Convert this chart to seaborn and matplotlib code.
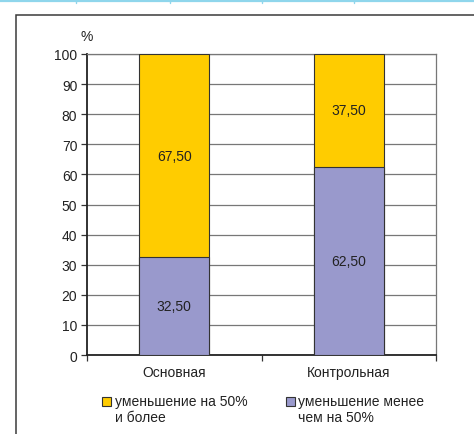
import matplotlib
matplotlib.use("Agg")
import matplotlib.pyplot as plt
from matplotlib.patches import Rectangle
from matplotlib.lines import Line2D
import seaborn as sns
import pandas as pd

groups = ["Основная", "Контрольная"]
less_than_50 = [32.5, 62.5]
at_least_50 = [67.5, 37.5]
series_names = ["уменьшение на 50%\nи более", "уменьшение менее\nчем на 50%"]
yticks = [0, 10, 20, 30, 40, 50, 60, 70, 80, 90, 100]

YELLOW = "#FFCC00"
PURPLE = "#9999CC"

sns.set_theme(style="white")
plt.rcParams["font.family"] = ["Liberation Sans", "DejaVu Sans"]

W, H = 474, 435
fig = plt.figure(figsize=(W / 100, H / 100), dpi=100)


def fx(px):
    return px / W


def fy(py):
    return 1 - py / H


# panel frame and header rule
fig.add_artist(Rectangle((fx(16), -0.1), 1.2, fy(16) + 0.1,
                         transform=fig.transFigure, fill=False,
                         edgecolor="#3a3a3a", linewidth=1.1))
fig.add_artist(Line2D([0, 1], [fy(1.5), fy(1.5)], transform=fig.transFigure,
                      color="#8fd6ec", linewidth=1.6))
for xp in [76, 170, 262, 354]:
    fig.add_artist(Line2D([fx(xp), fx(xp)], [fy(3.5), 1.0], transform=fig.transFigure,
                          color="#8fd6ec", linewidth=1.0))

left, right, top, bottom = 87, 436, 55, 356
ax = fig.add_axes([fx(left), fy(bottom), (right - left) / W, (bottom - top) / H])

df = pd.DataFrame({"group": groups, "low": less_than_50, "high": at_least_50})
df["total"] = df["low"] + df["high"]

sns.barplot(data=df, x="group", y="total", color=YELLOW, saturation=1, width=0.4,
            edgecolor="#333333", linewidth=0.8, ax=ax, zorder=3)
sns.barplot(data=df, x="group", y="low", color=PURPLE, saturation=1, width=0.4,
            edgecolor="#333333", linewidth=0.8, ax=ax, zorder=4)


def fmt(v):
    return f"{v:.2f}".replace(".", ",")


for i, row in df.iterrows():
    ax.text(i, row["low"] / 2, fmt(row["low"]), ha="center", va="center",
            fontsize=10, color="#222222", zorder=5)
    ax.text(i, row["low"] + row["high"] / 2, fmt(row["high"]), ha="center", va="center",
            fontsize=10, color="#222222", zorder=5)

ax.set_xlim(-0.5, 1.5)
ax.set_ylim(0, 100)
ax.set_yticks(yticks)
ax.set_yticklabels([str(t) for t in yticks], fontsize=10, color="#222222")
ax.yaxis.grid(True, color="#777777", linewidth=0.9, zorder=0)
ax.set_axisbelow(True)
ax.set_xlabel("")
ax.set_ylabel("")

ax.tick_params(axis="y", which="both", left=True, length=4, width=0.9,
               color="#333333", pad=3, direction="out")
ax.set_xticks([0, 1])
ax.set_xticklabels(groups, fontsize=10, color="#222222")
ax.tick_params(axis="x", which="major", bottom=False, length=0, pad=7)
ax.set_xticks([-0.5, 0.5, 1.5], minor=True)
ax.tick_params(axis="x", which="minor", bottom=True, length=4, width=0.9,
               color="#333333", direction="out")

for side in ["left", "bottom"]:
    ax.spines[side].set_color("#222222")
    ax.spines[side].set_linewidth(1.3)
for side in ["top", "right"]:
    ax.spines[side].set_color("#777777")
    ax.spines[side].set_linewidth(0.9)
    ax.spines[side].set_visible(True)

ax.text(0, 1.035, "%", transform=ax.transAxes, ha="center", va="bottom",
        fontsize=10, color="#222222")

# legend: swatch aligned with the first line of each two-line label
legend_items = [(YELLOW, series_names[0], 102, 115), (PURPLE, series_names[1], 286, 298)]
for color, label, sx, tx in legend_items:
    fig.add_artist(Rectangle((fx(sx), fy(406.5)), 9 / W, 9 / H, transform=fig.transFigure,
                             facecolor=color, edgecolor="#333333", linewidth=0.8))
    for k, line in enumerate(label.split("\n")):
        fig.text(fx(tx), fy(402 + 16 * k), line, ha="left", va="center",
                 fontsize=10, color="#222222")

fig.savefig("out.png", dpi=100)
